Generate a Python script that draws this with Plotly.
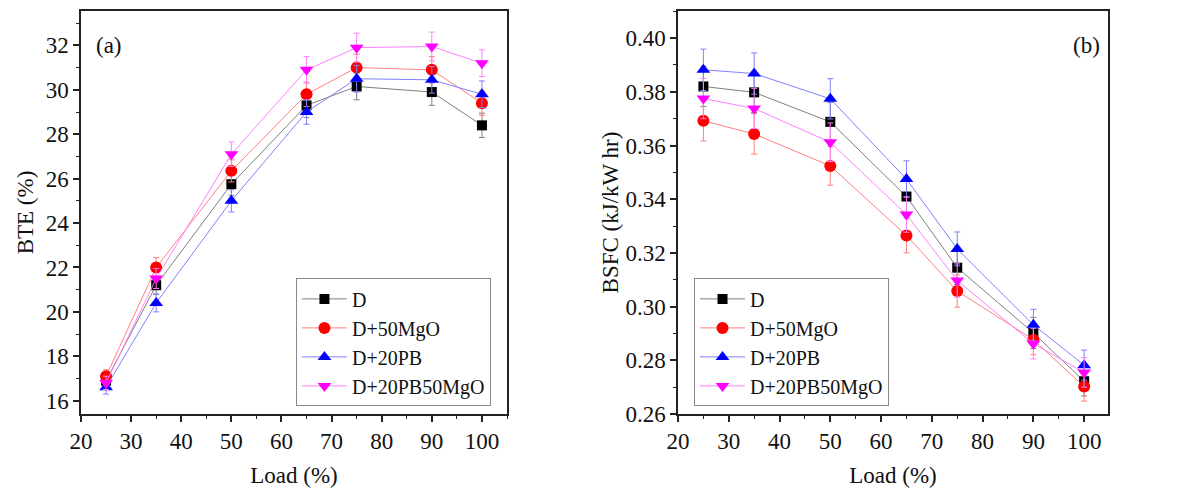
import plotly.graph_objects as go

load = [25, 35, 50, 65, 75, 90, 100]
series_names = ["D", "D+50MgO", "D+20PB", "D+20PB50MgO"]

bte_D = [16.9, 21.2, 25.75, 29.3, 30.15, 29.9, 28.4]
bte_MgO = [17.1, 22.0, 26.35, 29.8, 31.0, 30.9, 29.4]
bte_PB = [16.6, 20.4, 25.0, 29.0, 30.5, 30.45, 29.8]
bte_PBMgO = [16.8, 21.5, 27.1, 30.9, 31.9, 31.95, 31.2]

bte_err_D = [0.3, 0.4, 0.5, 0.55, 0.6, 0.6, 0.55]
bte_err_MgO = [0.3, 0.45, 0.5, 0.55, 0.6, 0.6, 0.55]
bte_err_PB = [0.3, 0.4, 0.5, 0.55, 0.6, 0.6, 0.6]
bte_err_PBMgO = [0.3, 0.45, 0.55, 0.6, 0.65, 0.65, 0.6]

bsfc_D = [0.382, 0.3798, 0.3688, 0.341, 0.3145, 0.2902, 0.2722]
bsfc_MgO = [0.3692, 0.3643, 0.3524, 0.3265, 0.3058, 0.2877, 0.2702]
bsfc_PB = [0.3882, 0.3868, 0.3774, 0.3475, 0.3215, 0.2932, 0.2782]
bsfc_PBMgO = [0.3775, 0.3738, 0.3612, 0.3343, 0.3097, 0.2862, 0.2755]

bsfc_err_D = [0.0075, 0.0075, 0.0072, 0.0068, 0.0063, 0.0058, 0.0055]
bsfc_err_MgO = [0.0075, 0.0075, 0.0072, 0.0065, 0.006, 0.0056, 0.0054]
bsfc_err_PB = [0.0077, 0.0077, 0.0075, 0.0068, 0.0063, 0.0058, 0.0056]
bsfc_err_PBMgO = [0.0075, 0.0075, 0.0072, 0.0066, 0.0062, 0.0057, 0.0055]

marker_colors = ["#000000", "#ff0000", "#0000ff", "#ff00ff"]
line_colors = ["#808080", "#ff8080", "#8080ff", "#ff80ff"]
symbols = ["square", "circle", "triangle-up", "triangle-down"]
msizes = [10, 12, 12, 12]

bte = [bte_D, bte_MgO, bte_PB, bte_PBMgO]
bte_err = [bte_err_D, bte_err_MgO, bte_err_PB, bte_err_PBMgO]
bsfc = [bsfc_D, bsfc_MgO, bsfc_PB, bsfc_PBMgO]
bsfc_err = [bsfc_err_D, bsfc_err_MgO, bsfc_err_PB, bsfc_err_PBMgO]

FONT = "Times New Roman, Liberation Serif, Times, serif"

fig = go.Figure()
for i, name in enumerate(series_names):
    fig.add_trace(go.Scatter(
        x=load, y=bte[i], name=name, mode="lines+markers",
        line=dict(color=line_colors[i], width=1),
        marker=dict(symbol=symbols[i], color=marker_colors[i], size=msizes[i]),
        error_y=dict(type="data", array=bte_err[i], color=line_colors[i], thickness=1, width=3),
        xaxis="x", yaxis="y", legend="legend",
    ))
for i, name in enumerate(series_names):
    fig.add_trace(go.Scatter(
        x=load, y=bsfc[i], name=name, mode="lines+markers",
        line=dict(color=line_colors[i], width=1),
        marker=dict(symbol=symbols[i], color=marker_colors[i], size=msizes[i]),
        error_y=dict(type="data", array=bsfc_err[i], color=line_colors[i], thickness=1, width=3),
        xaxis="x2", yaxis="y2", legend="legend2",
    ))

axis_common = dict(
    showline=True, linecolor="#222222", linewidth=1.5, mirror=True,
    ticks="outside", ticklen=6, tickwidth=1.5, tickcolor="#222222",
    showgrid=False, zeroline=False,
    tickfont=dict(family=FONT, size=23, color="#111111"),
)
minor_common = dict(ticks="outside", ticklen=3, tickwidth=1, tickcolor="#222222", showgrid=False)

legend_common = dict(
    font=dict(family=FONT, size=20, color="#111111"),
    bordercolor="#888888", borderwidth=1, bgcolor="rgba(255,255,255,0)",
    xanchor="left", yanchor="top", itemwidth=45, tracegroupgap=0,
)

fig.update_layout(
    width=1182, height=493,
    margin=dict(l=81, r=74, t=9, b=73),
    paper_bgcolor="white", plot_bgcolor="white",
    font=dict(family=FONT, size=22, color="#111111"),
    xaxis=dict(domain=[0, 0.4148], range=[20, 105], dtick=10, tick0=20,
               minor=dict(dtick=5, **minor_common),
               title=dict(text="Load (%)", font=dict(family=FONT, size=23), standoff=14),
               anchor="y", **axis_common),
    yaxis=dict(domain=[0, 1], range=[15.4, 33.55], dtick=2, tick0=16,
               minor=dict(dtick=1, **minor_common),
               title=dict(text="BTE (%)", font=dict(family=FONT, size=23), standoff=6),
               anchor="x", **axis_common),
    xaxis2=dict(domain=[0.5813, 1], range=[20, 104.7], dtick=10, tick0=20,
                minor=dict(dtick=5, **minor_common),
                title=dict(text="Load (%)", font=dict(family=FONT, size=23), standoff=14),
                anchor="y2", **axis_common),
    yaxis2=dict(domain=[0, 1], range=[0.26, 0.4101], dtick=0.02, tick0=0.26, tickformat=".2f",
                minor=dict(dtick=0.01, **minor_common),
                title=dict(text="BSFC (kJ/kW hr)", font=dict(family=FONT, size=23), standoff=0),
                anchor="x2", **axis_common),
    legend=dict(x=0.2093, y=0.3365, **legend_common),
    legend2=dict(x=0.5969, y=0.3365, **legend_common),
    annotations=[
        dict(text="(a)", xref="x domain", yref="y domain", x=0.03, y=0.915,
             xanchor="left", yanchor="middle", showarrow=False,
             font=dict(family=FONT, size=23, color="#111111")),
        dict(text="(b)", xref="x2 domain", yref="y2 domain", x=0.985, y=0.915,
             xanchor="right", yanchor="middle", showarrow=False,
             font=dict(family=FONT, size=23, color="#111111")),
    ],
)

fig.write_html("out.html")
